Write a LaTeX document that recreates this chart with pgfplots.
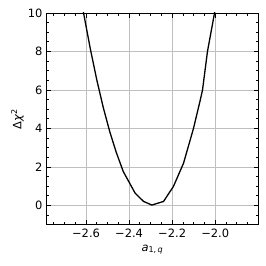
\documentclass[border=0pt]{standalone}
\usepackage{pgfplots}
\pgfplotsset{compat=1.18}
\usepackage{fontspec}
\setmainfont{DejaVu Sans}
\begin{document}
\begin{tikzpicture}
\begin{axis}[
  width=212.7bp, height=211.7bp, scale only axis,
  xmin=-2.786, xmax=-1.798, ymin=-1, ymax=10,
  xtick={-2.6,-2.4,-2.2,-2.0},
  xticklabels={−2.6,−2.4,−2.2,−2.0},
  ytick={0,2,4,6,8,10},
  yticklabels={0,2,4,6,8,10},
  minor xtick={-2.75,-2.7,-2.65,-2.55,-2.5,-2.45,-2.35,-2.3,-2.25,-2.15,-2.1,-2.05,-1.95,-1.9,-1.85,-1.8},
  minor ytick={-0.5,0.5,1,1.5,2.5,3,3.5,4.5,5,5.5,6.5,7,7.5,8.5,9,9.5},
  tick align=inside,
  xtick pos=both, ytick pos=both,
  major tick length=5bp, minor tick length=3bp,
  every tick/.style={black, line width=0.8bp},
  axis line style={black, line width=0.8bp},
  grid=major,
  major grid style={color=black!25, line width=0.8bp},
  tick label style={font=\fontsize{11.5}{13}\selectfont},
  label style={font=\fontsize{11.5}{13}\selectfont},
  xticklabel style={yshift=-1bp},
  yticklabel style={xshift=0bp},
  xlabel={\textit{a}\textsubscript{1,\,\textit{q}}},
  ylabel={Δ\textit{χ}\textsuperscript{2}},
  xlabel style={at={(axis description cs:0.5,-0.118)}, anchor=center},
  ylabel style={at={(axis description cs:-0.134,0.5)}, anchor=center},
  clip=true,
]
\addplot[black, line width=1.3bp] coordinates {
(-2.625,10.8) (-2.58,8.13) (-2.55,6.52) (-2.52,5.09) (-2.49,3.84) (-2.46,2.77) (-2.427,1.76)
(-2.372,0.64) (-2.333,0.21) (-2.294,0.02) (-2.240,0.21) (-2.194,0.99)
(-2.147,2.2) (-2.101,4.0) (-2.070,5.45) (-2.059,6.0) (-2.036,8.0) (-1.995,10.5)
};
\end{axis}
\pgfresetboundingbox
\path (current axis.south west) ++(-46bp,-41.3bp) coordinate (bbA);
\path (current axis.north east) ++(7.3bp,13bp) coordinate (bbB);
\path[use as bounding box] (bbA) rectangle (bbB);
\end{tikzpicture}
\end{document}
